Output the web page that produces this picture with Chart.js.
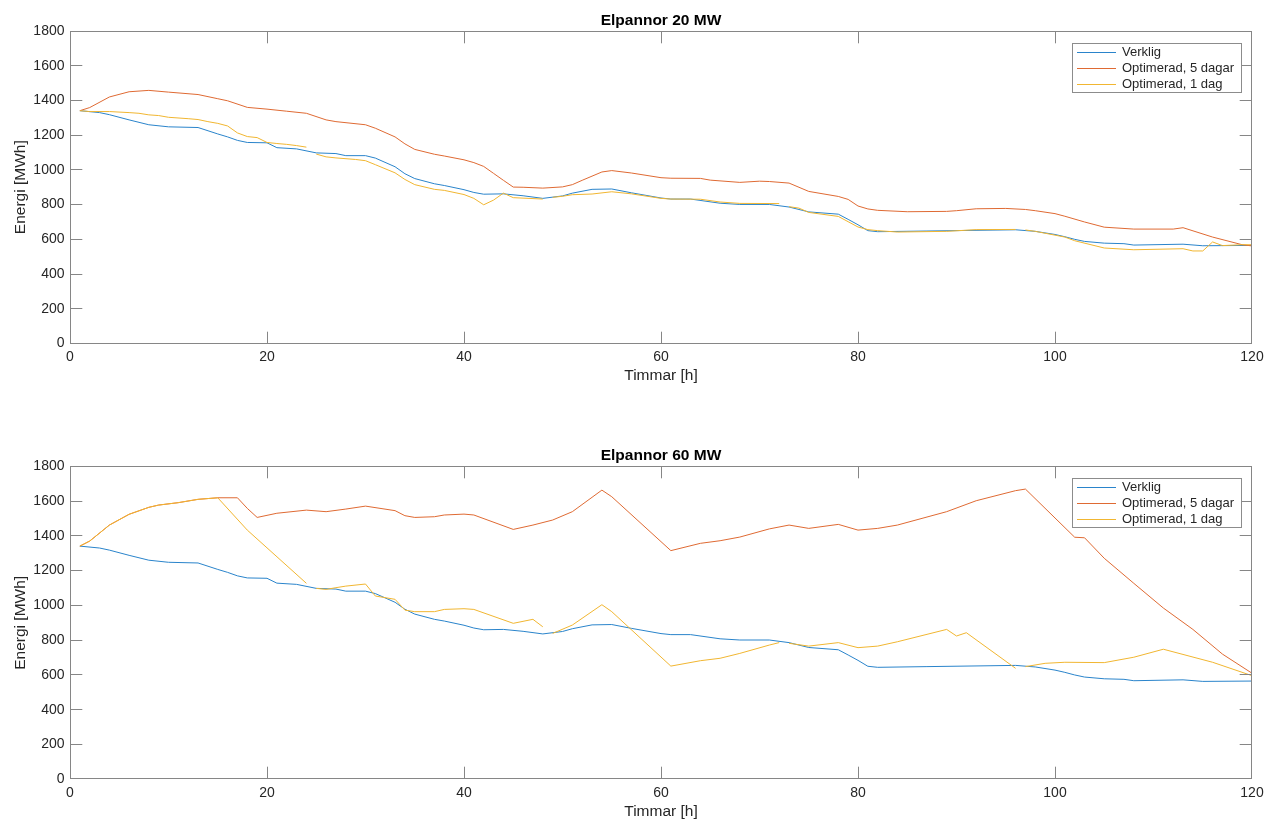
<!DOCTYPE html>
<html><head><meta charset="utf-8">
<script src="https://cdn.jsdelivr.net/npm/chart.js@4.4.0/dist/chart.umd.min.js"></script>
<style>
html,body{margin:0;padding:0;background:#fff;}
#wrap{position:relative;width:1273px;height:821px;overflow:hidden;}
canvas{position:absolute;left:0;}
#c1{top:0;} #c2{top:410px;}
</style></head><body>
<div id="wrap">
<canvas id="c1" width="1273" height="410"></canvas>
<canvas id="c2" width="1273" height="411"></canvas>
</div>
<script>
// ---- data ----
const xTickValues = [0, 20, 40, 60, 80, 100, 120];
const yTickValues = [0, 200, 400, 600, 800, 1000, 1200, 1400, 1600, 1800];
const seriesLabels = ['Verklig', 'Optimerad, 5 dagar', 'Optimerad, 1 dag'];
const chartTitles = ['Elpannor 20 MW', 'Elpannor 60 MW'];

const verkligH = [1,3,4,6,8,10,13,15,16,17,18,20,21,23,25,27,28,30,31,33,34,35,37,38,40,41,42,44,46,48,50,51,53,55,57,60,61,63,66,68,71,73,75,78,79,80,81,82,87,96,98,100,101,102,103,105,107,108,113,115,120];
const verkligE = [1341,1330,1318,1288,1260,1248,1244,1207,1190,1170,1158,1156,1128,1121,1098,1094,1082,1082,1068,1018,978,950,920,910,886,870,860,862,851,836,850,866,888,890,868,838,832,832,808,801,801,786,758,745,715,684,650,644,648,655,646,628,615,600,588,578,575,567,572,563,565];

const opt5_20H = [1,2,4,6,8,10,13,15,16,18,20,22,24,26,27,30,31,33,34,35,37,38,40,41,42,43,44,45,46,48,50,51,52,54,55,57,60,61,64,65,68,70,71,73,75,78,79,80,81,82,85,89,90,92,95,97,98,100,101,103,105,108,112,113,116,119,120];
const opt5_20E = [1341,1359,1420,1450,1458,1448,1434,1410,1398,1360,1350,1338,1326,1288,1278,1260,1240,1190,1150,1118,1090,1080,1058,1042,1020,980,940,901,900,895,902,915,940,988,996,982,955,952,951,941,928,935,933,924,876,847,830,792,775,767,759,761,765,776,778,772,765,748,733,700,670,659,659,667,613,569,562];

const opt1_20H = [1,2,4,6,7,8,9,10,12,13,14,15,16,17,18,19,20,21,22,23,24, 24.5, 25,26,27,29,30,31,33,34,35,37,38,40,41,42,43,44,45,48, 48.5, 49,50,51,53,55,57,60,61,64,66,68,72, 72.5, 73,74,75,78,80,81,82,84,89,92,96, 96.5, 97,98,101,102,105,108,113,114,115,116,117,119,120];
const opt1_20E = [1341,1336,1336,1330,1326,1317,1313,1303,1295,1290,1278,1268,1253,1213,1192,1186,1158,1152,1147,1140,1131, null, 1091,1075,1069,1060,1053,1030,983,945,915,888,882,858,836,799,826,866,840,832, null, 842,848,857,861,874,862,836,832,831,815,807,806, null, 788,780,755,732,671,656,650,642,646,656,657, null, 654,646,613,592,550,540,546,533,533,585,564,569,569];

const opt5_60H = [1,2,4,6,8,9,11,13,15,17,18,19,21,24,26,28,30,33,34,35,37,38,40,41,45,47,49,51,54,55,61,64,66,68,71,73,75,78,80,82,84,89,92,96,97,102,103,105,108,111,114,117,120];
const opt5_60E = [1341,1370,1462,1524,1564,1577,1591,1610,1619,1619,1558,1506,1530,1548,1539,1554,1571,1545,1516,1506,1510,1520,1525,1520,1437,1462,1491,1539,1663,1625,1315,1357,1372,1393,1440,1462,1443,1466,1433,1443,1462,1539,1602,1660,1669,1392,1389,1271,1127,985,862,720,610];

const opt1_60H = [1,2,4,6,8,9,11,13,15,18,24, 24.5, 25,26,27,28,30,31,33,34,35,37,38,40,41,45,47,48, 48.5, 49,51,54,55,61,64,66,68,71,72, 72.5, 73,75,78,80,82,84,89,90,91,96, 96.5, 97,99,101,105,108,111,116,120];
const opt1_60E = [1341,1370,1462,1524,1564,1577,1591,1610,1619,1433,1127, null, 1098,1092,1102,1111,1123,1054,1035,973,964,964,977,981,977,897,920,877, null, 839,887,1004,964,651,682,696,724,772,786, null, 782,766,786,757,766,791,862,824,843,638, null, 648,667,673,671,702,748,673,596];

// ---- styling ----
const COLORS = ['#2a84cb', '#df6a33', '#f1b631'];
const AXIS = '#868686', TEXT = '#262626';
const FONT = "'Liberation Sans', Arial, Helvetica, sans-serif";

const pts = (hs, vs) => hs.map((h, i) => ({x: h, y: vs[i]}));

const framePlugin = {
  id: 'frame',
  afterDatasetsDraw(chart) {
    const {ctx, chartArea: a, scales: {x, y}} = chart;
    ctx.save();
    ctx.strokeStyle = AXIS; ctx.lineWidth = 1;
    const L = Math.round(a.left) + 0.5, R = Math.round(a.right) - 0.5;
    const T = Math.round(a.top) + 0.5, B = Math.round(a.bottom) - 0.5;
    ctx.strokeRect(L, T, R - L, B - T);
    const tl = 11.8;
    const clamp = (v, lo, hi) => Math.min(hi, Math.max(lo, v));
    ctx.beginPath();
    x.ticks.forEach(t => {
      const px = clamp(Math.round(x.getPixelForValue(t.value) - 0.5) + 0.5, L, R);
      ctx.moveTo(px, B); ctx.lineTo(px, B - tl);
      ctx.moveTo(px, T); ctx.lineTo(px, T + tl);
    });
    y.ticks.forEach(t => {
      const py = clamp(Math.round(y.getPixelForValue(t.value) - 0.5) + 0.5, T, B);
      ctx.moveTo(L, py); ctx.lineTo(L + tl, py);
      ctx.moveTo(R, py); ctx.lineTo(R - tl, py);
    });
    ctx.stroke();
    // legend box
    const bx = Math.round(a.right - 180.5) + 0.5, by = Math.round(a.top + 11.7) + 0.5, bw = 169, bh = 49;
    ctx.fillStyle = '#fff';
    ctx.fillRect(bx, by, bw, bh);
    ctx.strokeStyle = '#8c8c8c';
    ctx.lineWidth = 1;
    ctx.strokeRect(bx, by, bw, bh);
    ctx.font = '13px ' + FONT;
    ctx.textBaseline = 'middle';
    ctx.textAlign = 'left';
    seriesLabels.forEach((lab, i) => {
      const ry = by + 8.6 + i * 15.7;
      ctx.fillStyle = COLORS[i];
      ctx.fillRect(Math.round(bx + 4), Math.round(ry), 39, 1);
      ctx.fillStyle = TEXT;
      ctx.fillText(lab, bx + 49.5, ry + 0.5);
    });
    ctx.restore();
  }
};

function makeChart(id, titleText, seriesData, cfg) {
  return new Chart(document.getElementById(id), {
    type: 'line',
    data: {
      datasets: seriesData.map((s, i) => ({
        label: seriesLabels[i], data: s, borderColor: COLORS[i], backgroundColor: COLORS[i],
        borderWidth: 1, pointRadius: 0, fill: false, tension: 0, spanGaps: false, order: 2 - i
      }))
    },
    options: {
      responsive: false, animation: false, events: [],
      layout: {padding: {left: 0, right: 21, top: cfg.padTop, bottom: 0}},
      plugins: {
        legend: {display: false}, tooltip: {enabled: false},
        title: {display: true, text: titleText, fullSize: false, color: '#000',
          font: {family: FONT, size: 15.5, weight: 'bold'}, padding: {top: 11.5, bottom: 0.9}}
      },
      scales: {
        x: {
          type: 'linear', min: 0, max: 120, position: 'bottom',
          afterBuildTicks: s => { s.ticks = xTickValues.map(v => ({value: v})); },
          afterFit: s => { s.height = cfg.xHeight; },
          grid: {display: false, drawTicks: false}, border: {display: false},
          ticks: {padding: 5, color: TEXT, font: {family: FONT, size: 14}, maxRotation: 0, autoSkip: false,
            callback: v => String(v)},
          title: {display: true, text: 'Timmar [h]', color: TEXT, font: {family: FONT, size: 15.5},
            padding: {top: 0, bottom: cfg.xTitlePad}}
        },
        y: {
          type: 'linear', min: 0, max: 1800, position: 'left',
          afterBuildTicks: s => { s.ticks = yTickValues.map(v => ({value: v})); },
          afterFit: s => { s.width = 70; },
          grid: {display: false, drawTicks: false}, border: {display: false},
          ticks: {padding: 5.5, color: TEXT, font: {family: FONT, size: 14}, autoSkip: false,
            callback: v => String(v)},
          title: {display: true, text: 'Energi [MWh]', color: TEXT, font: {family: FONT, size: 15.5},
            padding: {top: 11.5, bottom: 0}}
        }
      }
    },
    plugins: [framePlugin]
  });
}

makeChart('c1', chartTitles[0],
  [pts(verkligH, verkligE), pts(opt5_20H, opt5_20E), pts(opt1_20H, opt1_20E)],
  {padTop: 0, xHeight: 66.5, xTitlePad: 25.2});
makeChart('c2', chartTitles[1],
  [pts(verkligH, verkligE), pts(opt5_60H, opt5_60E), pts(opt1_60H, opt1_60E)],
  {padTop: 25.3, xHeight: 41.7, xTitlePad: 0.4});
</script>
</body></html>
